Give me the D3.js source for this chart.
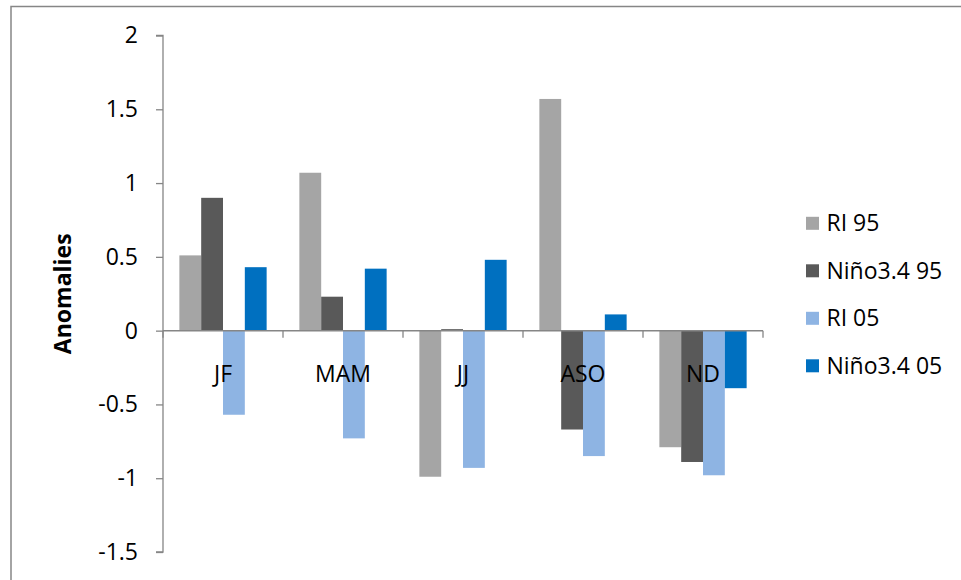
<!DOCTYPE html>
<html>
<head>
<meta charset="utf-8">
<script src="https://cdn.jsdelivr.net/npm/d3@7"></script>
<style>
  html, body { margin: 0; padding: 0; background: #fff; }
  svg { display: block; }
  text { font-family: "Open Sans", "Noto Sans", sans-serif; fill: #000; }
</style>
</head>
<body>
<svg id="chart" width="961" height="580"></svg>
<script>
const categories = ["JF", "MAM", "JJ", "ASO", "ND"];
const seriesNames = ["RI 95", "Niño3.4 95", "RI 05", "Niño3.4 05"];
const ri95 = [0.51, 1.07, -0.99, 1.57, -0.79];
const nino95 = [0.90, 0.23, 0.01, -0.67, -0.89];
const ri05 = [-0.57, -0.73, -0.93, -0.85, -0.98];
const nino05 = [0.43, 0.42, 0.48, 0.11, -0.39];
const yTicks = [-1.5, -1, -0.5, 0, 0.5, 1, 1.5, 2];
const colors = ["#A5A5A5", "#595959", "#8EB4E3", "#0070C0"];
const seriesValues = [ri95, nino95, ri05, nino05];

const svg = d3.select("#chart");
const fontSize = 23;

// outer frame
svg.append("rect")
  .attr("x", 11).attr("y", 6.5)
  .attr("width", 1200).attr("height", 1200)
  .attr("fill", "none").attr("stroke", "#868686").attr("stroke-width", 1.5);

const plot = { left: 163, right: 763, top: 35.5, bottom: 552 };

const y = d3.scaleLinear().domain([-1.5, 2]).range([plot.bottom, plot.top]);
const x0 = d3.scaleBand().domain(categories).range([plot.left, plot.right]).paddingInner(0).paddingOuter(0);
const x1 = d3.scaleBand().domain(seriesNames).range([0, x0.bandwidth()]).paddingInner(0).paddingOuter(0.75);

const data = [];
categories.forEach((c, i) => {
  seriesNames.forEach((s, j) => {
    data.push({ cat: c, series: s, value: seriesValues[j][i], color: colors[j] });
  });
});

// bars
svg.append("g").selectAll("rect")
  .data(data)
  .join("rect")
  .attr("x", d => x0(d.cat) + x1(d.series))
  .attr("width", x1.bandwidth())
  .attr("y", d => Math.min(y(d.value), y(0)))
  .attr("height", d => Math.abs(y(d.value) - y(0)))
  .attr("fill", d => d.color);

// y axis
const yAxis = svg.append("g")
  .attr("transform", `translate(${plot.left},0)`)
  .call(d3.axisLeft(y).tickValues(yTicks).tickFormat(d => String(d)).tickSize(7).tickPadding(18));
yAxis.select(".domain").attr("stroke", "#868686").attr("stroke-width", 1.3)
  .attr("d", `M-7,${plot.top}H0V${plot.bottom}H-7`);
yAxis.selectAll(".tick line").attr("stroke", "#868686").attr("stroke-width", 1.3);
yAxis.selectAll(".tick text").attr("font-size", fontSize).attr("font-family", "'Open Sans', sans-serif").attr("fill", "#000");

// x axis line at zero with category boundary ticks
const xg = svg.append("g");
xg.append("line")
  .attr("x1", plot.left).attr("x2", plot.right)
  .attr("y1", y(0)).attr("y2", y(0))
  .attr("stroke", "#868686").attr("stroke-width", 1.5);
const boundaries = categories.map(c => x0(c)).concat([x0(categories[categories.length - 1]) + x0.bandwidth()]);
xg.selectAll("line.tk")
  .data(boundaries)
  .join("line")
  .attr("class", "tk")
  .attr("x1", d => d).attr("x2", d => d)
  .attr("y1", y(0)).attr("y2", y(0) + 7)
  .attr("stroke", "#868686").attr("stroke-width", 1.3);
xg.selectAll("text")
  .data(categories)
  .join("text")
  .attr("x", d => x0(d) + x0.bandwidth() / 2)
  .attr("y", y(0) + 51)
  .attr("text-anchor", "middle")
  .attr("font-size", fontSize)
  .text(d => d);

// y axis title
svg.append("text")
  .attr("transform", `translate(71,${(plot.top + plot.bottom) / 2}) rotate(-90)`)
  .attr("text-anchor", "middle")
  .attr("font-size", fontSize)
  .attr("font-weight", "bold")
  .text("Anomalies");

// legend
const legend = svg.append("g");
const legendY = [223.3, 270.8, 318.3, 365.8];
seriesNames.forEach((s, j) => {
  legend.append("rect")
    .attr("x", 806).attr("y", legendY[j] - 6.5)
    .attr("width", 13).attr("height", 13)
    .attr("fill", colors[j]);
  legend.append("text")
    .attr("x", 826.5).attr("y", legendY[j])
    .attr("dy", "0.35em")
    .attr("font-size", fontSize)
    .text(s);
});
</script>
</body>
</html>
